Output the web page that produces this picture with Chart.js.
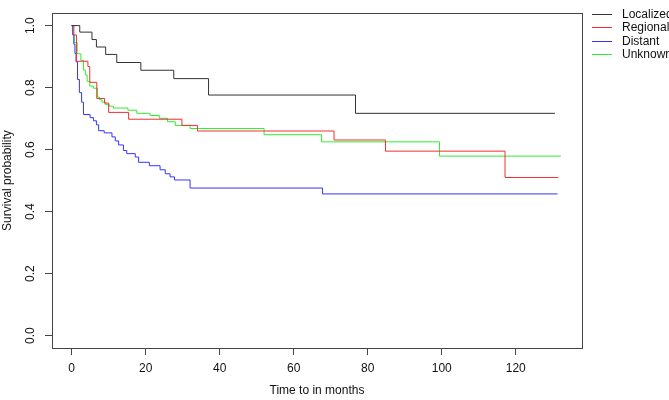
<!DOCTYPE html>
<html>
<head>
<meta charset="utf-8">
<script src="https://cdn.jsdelivr.net/npm/chart.js@4/dist/chart.umd.min.js"></script>
<style>
  html, body { margin: 0; padding: 0; background: #fff; }
  #wrap { width: 669px; height: 400px; }
</style>
</head>
<body>
<div id="wrap"><canvas id="km"></canvas></div>
<script>
// Kaplan-Meier estimates: step times (months) and survival after each step
var localizedTime = [0, 2.2, 5.5, 6.7, 9.2, 12.2, 18.7, 27.6, 37.0, 76.7, 130.6];
var localizedSurv = [1, 0.979, 0.955, 0.931, 0.907, 0.881, 0.856, 0.829, 0.776, 0.717, 0.717];

var regionalTime = [0, 0.6, 1.3, 4.4, 4.9, 6.8, 8.9, 10.0, 15.4, 29.8, 34.0, 70.9, 84.8, 117.1, 131.5];
var regionalSurv = [1, 0.97, 0.885, 0.868, 0.817, 0.765, 0.75, 0.72, 0.698, 0.678, 0.66, 0.631, 0.595, 0.51, 0.51];

var distantTime = [0, 0.3, 0.6, 0.9, 1.2, 1.6, 2.1, 2.7, 3.2, 5.0, 5.9, 6.7, 7.3, 8.8, 10.9, 11.8, 12.7, 14.0, 14.9, 17.2, 18.1, 21.0, 23.9, 25.3, 26.6, 27.8, 32.0, 67.8, 131.3];
var distantSurv = [1, 0.97, 0.94, 0.91, 0.883, 0.826, 0.784, 0.753, 0.713, 0.703, 0.693, 0.68, 0.661, 0.654, 0.641, 0.628, 0.615, 0.597, 0.587, 0.576, 0.559, 0.548, 0.535, 0.522, 0.512, 0.502, 0.476, 0.457, 0.457];

var unknownTime = [0, 0.4, 0.7, 1.5, 2.5, 3.2, 3.7, 4.2, 4.9, 5.9, 7.0, 7.5, 8.2, 9.1, 10.2, 11.3, 15.2, 17.6, 21.2, 23.7, 25.9, 28.0, 32.0, 52.0, 67.5, 99.4, 132.2];
var unknownSurv = [1, 0.97, 0.945, 0.909, 0.888, 0.857, 0.841, 0.82, 0.805, 0.798, 0.769, 0.761, 0.753, 0.745, 0.74, 0.734, 0.727, 0.717, 0.71, 0.701, 0.69, 0.678, 0.668, 0.648, 0.625, 0.579, 0.579];

var xTicks = [0, 20, 40, 60, 80, 100, 120];
var yTicks = [0, 0.2, 0.4, 0.6, 0.8, 1.0];

var black = '#333333';
var red = '#f03030';
var blue = '#3535ff';
var green = '#30ee30';
var axisCol = '#444444';
var fontFam = '"Liberation Sans", Arial, sans-serif';

function toPoints(t, s) {
    var pts = [];
    for (var i = 0; i < t.length; i++) {
        pts.push({ x: t[i], y: s[i] });
    }
    return pts;
}

function series(label, t, s, col) {
    return {
        label: label,
        data: toPoints(t, s),
        borderColor: col,
        backgroundColor: col,
        borderWidth: 1,
        pointRadius: 0,
        stepped: true,
        fill: false
    };
}

// full box around the plot area
var boxPlugin = {
    id: 'box',
    afterDatasetsDraw: function (chart) {
        var a = chart.chartArea;
        var ctx = chart.ctx;
        ctx.save();
        ctx.strokeStyle = axisCol;
        ctx.lineWidth = 1;
        ctx.strokeRect(Math.round(a.left) + 0.5, Math.round(a.top) + 0.5,
            Math.round(a.right - a.left), Math.round(a.bottom - a.top));
        ctx.restore();
    }
};

// legend outside the box at the top right
var legendPlugin = {
    id: 'rlegend',
    afterDraw: function (chart) {
        var ctx = chart.ctx;
        var a = chart.chartArea;
        var x0 = Math.round(a.right) + 10;
        var y0 = 13.5;
        var rowH = 13.5;
        var cols = [black, red, blue, green];
        ctx.save();
        ctx.font = '12px ' + fontFam;
        ctx.textBaseline = 'middle';
        chart.data.datasets.forEach(function (ds, i) {
            var y = Math.round(y0 + i * rowH);
            ctx.fillStyle = cols[i];
            ctx.fillRect(x0, y, 20, 1);
            ctx.fillStyle = '#111';
            ctx.fillText(ds.label, x0 + 30, y + 0.5);
        });
        ctx.restore();
    }
};

var ctx = document.getElementById('km').getContext('2d');
var chart = new Chart(ctx, {
    type: 'line',
    data: {
        datasets: [
            series('Localized', localizedTime, localizedSurv, black),
            series('Regional', regionalTime, regionalSurv, red),
            series('Distant', distantTime, distantSurv, blue),
            series('Unknown', unknownTime, unknownSurv, green)
        ]
    },
    options: {
        responsive: true,
        maintainAspectRatio: false,
        animation: false,
        layout: { padding: { top: 1, right: 87, left: 0, bottom: 0 } },
        plugins: {
            legend: { display: false },
            tooltip: { enabled: false }
        },
        scales: {
            x: {
                type: 'linear',
                min: -5.3,
                max: 137.9,
                afterBuildTicks: function (scale) {
                    scale.ticks = xTicks.map(function (v) { return { value: v }; });
                },
                afterFit: function (scale) { scale.height = 52; },
                grid: { drawOnChartArea: false, drawTicks: true, tickLength: 7, color: axisCol },
                border: { display: false },
                ticks: {
                    color: '#111',
                    padding: 6,
                    maxRotation: 0,
                    font: { family: fontFam, size: 12 }
                },
                title: {
                    display: true,
                    text: 'Time to in months',
                    color: '#111',
                    padding: { top: 0, bottom: 2 },
                    font: { family: fontFam, size: 12 }
                }
            },
            y: {
                type: 'linear',
                min: -0.04,
                max: 1.04,
                afterBuildTicks: function (scale) {
                    scale.ticks = yTicks.map(function (v) { return { value: v }; });
                },
                afterFit: function (scale) { scale.width = 52; },
                grid: { drawOnChartArea: false, drawTicks: true, tickLength: 7, color: axisCol },
                border: { display: false },
                ticks: {
                    color: '#111',
                    padding: 6,
                    minRotation: 90,
                    maxRotation: 90,
                    crossAlign: 'center',
                    font: { family: fontFam, size: 12 },
                    callback: function (v) { return v.toFixed(1); }
                },
                title: {
                    display: true,
                    text: 'Survival probability',
                    color: '#111',
                    padding: { top: 0, bottom: 0 },
                    font: { family: fontFam, size: 12 }
                }
            }
        }
    },
    plugins: [boxPlugin, legendPlugin]
});
</script>
</body>
</html>
